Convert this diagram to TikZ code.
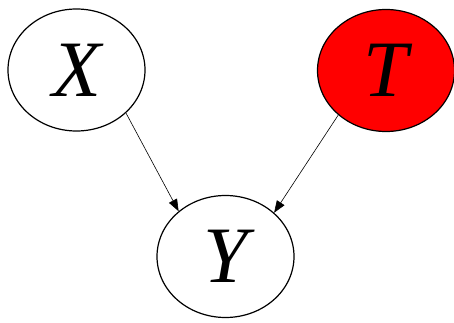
\documentclass[tikz,border=0pt]{standalone}
\usepackage{fontspec}
\setmainfont{Liberation Serif}
\usetikzlibrary{shapes.geometric,arrows.meta}
\begin{document}
\begin{tikzpicture}[x=1pt,y=1pt,
  var/.style={ellipse,draw=black,line width=1.2pt,minimum width=137pt,minimum height=122pt,inner sep=0pt,
    font=\fontsize{80}{80}\selectfont\itshape},
  edge/.style={line width=0.6pt,-{Triangle[length=12pt,width=9pt]}}]
\useasboundingbox (0,0) rectangle (454,322);
\node[var] (X) at (76.5,252) {X};
\node[var,fill=red] (T) at (386,251.5) {T};
\node[var] (Y) at (225.5,65.5) {Y};
\draw[edge] (X.-41.6) -- (Y.136.9);
\draw[edge] (T.-137.2) -- (Y.42.5);
\end{tikzpicture}
\end{document}
